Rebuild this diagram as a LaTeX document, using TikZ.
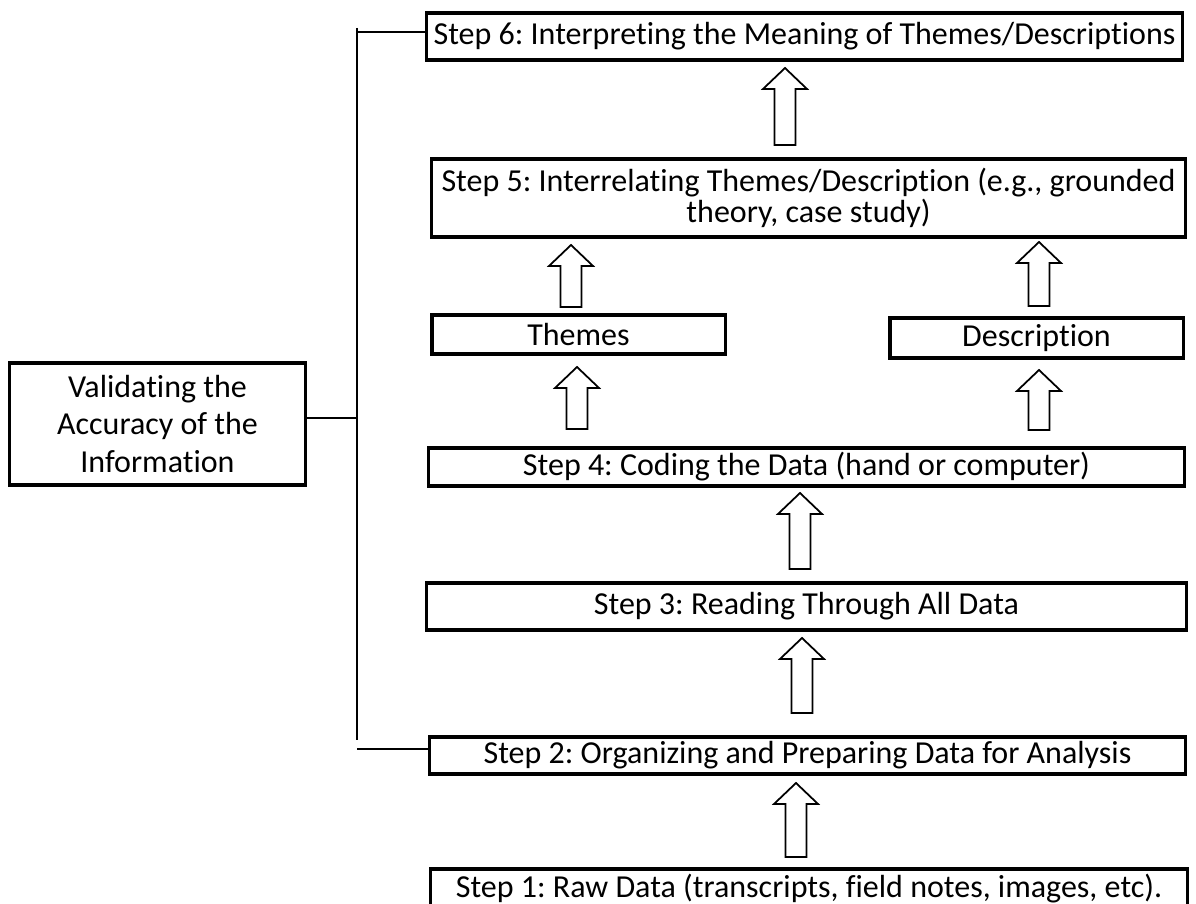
\documentclass[tikz,border=0pt]{standalone}
\usepackage{fontspec}
\setmainfont{Carlito}[Ligatures={NoCommon}]
\frenchspacing
\tikzset{
	stepbox/.style={draw,line width=0.9pt,inner sep=0,outer sep=0,align=center,font=\fontsize{9.1}{8.8}\selectfont},
	link/.style={line width=0.57pt},
	hollow/.style={draw,line width=0.5pt,fill=white}
}

\begin{document}
\begin{tikzpicture}[x=0.01cm,y=-0.01cm]
	\useasboundingbox (0,0) rectangle (1196,904);
	\node[stepbox,minimum width=7.55cm,minimum height=0.47cm] (s6) at (804.5,36.5) {Step 6: Interpreting the Meaning of Themes/Descriptions};
	\node[stepbox,minimum width=7.53cm,minimum height=0.78cm] (s5) at (808.5,198) {Step 5: Interrelating Themes/Description (e.g., grounded\\theory, case study)};
	\node[stepbox,minimum width=2.93cm,minimum height=0.39cm] (themes) at (578.5,334.5) {Themes};
	\node[stepbox,minimum width=2.93cm,minimum height=0.40cm] (desc) at (1036.5,338) {Description};
	\node[stepbox,minimum width=7.55cm,minimum height=0.38cm] (s4) at (806.5,467) {Step 4: Coding the Data (hand or computer)};
	\node[stepbox,minimum width=7.59cm,minimum height=0.47cm] (s3) at (806.5,606.5) {Step 3: Reading Through All Data};
	\node[stepbox,minimum width=7.55cm,minimum height=0.37cm] (s2) at (807.5,755.5) {Step 2: Organizing and Preparing Data for Analysis};
	\node[stepbox,minimum width=7.56cm,minimum height=0.40cm] (s1) at (809,889) {Step 1: Raw Data (transcripts, field notes, images, etc).};
	\node[stepbox,minimum width=2.95cm,minimum height=1.22cm,font=\fontsize{9.1}{10.8}\selectfont] (valid) at (157.5,424) {Validating the\\Accuracy of the\\Information};
	\coordinate (spinetop) at (357,28);
	\coordinate (spinebot) at (357,740);
	\coordinate (j6) at (357,32);
	\coordinate (jv) at (357,418);
	\coordinate (j2) at (357,749);
	\draw[link] (spinetop) -- (spinebot);
	\draw[link] (j6) -- (j6 -| s6.west);
	\draw[link] (jv -| valid.east) -- (jv);
	\draw[link] (j2) -- (j2 -| s2.west);
	\foreach \x/\b/\t in {785/145/68,571/307/245,1039/306/242,577/429/367,1039/430/370,800/569/493,802/713/638,796/857/783}
		\draw[hollow] (\x-10.5,\b) -- (\x-10.5,\t+21) -- (\x-22,\t+21) -- (\x,\t) -- (\x+22,\t+21) -- (\x+10.5,\t+21) -- (\x+10.5,\b) -- cycle;
\end{tikzpicture}
\end{document}
